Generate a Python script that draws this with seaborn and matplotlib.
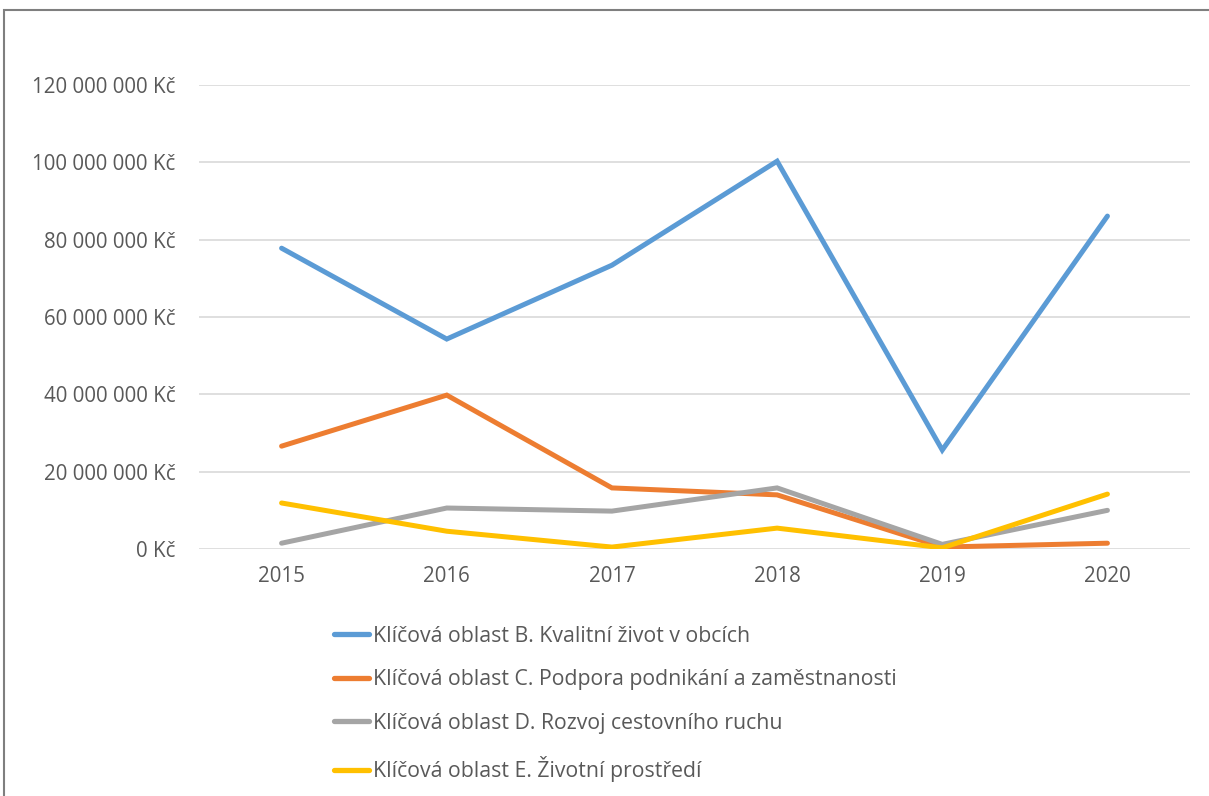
import pandas as pd
import matplotlib.pyplot as plt
import seaborn as sns
from matplotlib.patches import Rectangle
from matplotlib.ticker import FuncFormatter

years = [2015, 2016, 2017, 2018, 2019, 2020]
series_names = [
    "Klíčová oblast B. Kvalitní život v obcích",
    "Klíčová oblast C. Podpora podnikání a zaměstnanosti",
    "Klíčová oblast D. Rozvoj cestovního ruchu",
    "Klíčová oblast E. Životní prostředí",
]
oblast_b = [77.8e6, 54.3e6, 73.4e6, 100.3e6, 25.6e6, 86.1e6]
oblast_c = [26.6e6, 39.8e6, 15.8e6, 14.0e6, 0.5e6, 1.5e6]
oblast_d = [1.5e6, 10.6e6, 9.8e6, 15.8e6, 1.2e6, 10.0e6]
oblast_e = [11.9e6, 4.6e6, 0.5e6, 5.4e6, 0.3e6, 14.2e6]
colors = ["#5B9BD5", "#ED7D31", "#A5A5A5", "#FFC000"]

rows = []
for name, vals in zip(series_names, [oblast_b, oblast_c, oblast_d, oblast_e]):
    for yr, v in zip(years, vals):
        rows.append({"Rok": yr, "Částka": v, "Oblast": name})
df = pd.DataFrame(rows)

sns.set_style("white")
plt.rcParams['font.family'] = ['Open Sans', 'DejaVu Sans']
text_col = "#595959"

fig = plt.figure(figsize=(12.09, 7.96), dpi=100)
ax = fig.add_axes([0.1646, 0.3103, 0.8197, 0.5829])

sns.lineplot(data=df, x="Rok", y="Částka", hue="Oblast", palette=colors,
             linewidth=3.6, ax=ax, legend=False)
for ln in ax.lines:
    ln.set_solid_capstyle('round')
    ln.set_solid_joinstyle('miter')

ax.set_xlim(2014.5, 2020.5)
ax.set_ylim(0, 120e6)
ax.set_yticks(range(0, 120000001, 20000000))
ax.set_xticks(years)

def kc(v, pos):
    return f"{int(v):,} Kč".replace(",", " ")
ax.yaxis.set_major_formatter(FuncFormatter(kc))
ax.tick_params(axis='both', length=0, labelsize=14.8, colors=text_col)
ax.tick_params(axis='y', pad=17)
ax.tick_params(axis='x', pad=12)
ax.grid(axis='y', color="#D9D9D9", linewidth=1.2)
ax.set_axisbelow(True)
for s in ax.spines.values():
    s.set_visible(False)
ax.set_xlabel("")
ax.set_ylabel("")

# legend below plot
handles = [plt.Line2D([], [], color=c, linewidth=3.8, solid_capstyle='round') for c in colors]
fig.legend(handles, series_names, loc='upper left', bbox_to_anchor=(0.2606, 0.238),
           frameon=False, fontsize=15.3, labelcolor=text_col, handlelength=1.62,
           handletextpad=0.2, labelspacing=1.06)

# outer chart frame
fig.patches.append(Rectangle((0.0035, -0.05), 1.05, 1.0375, transform=fig.transFigure,
                             fill=False, edgecolor="#7F7F7F", linewidth=1.5))

fig.savefig("out.png", dpi=100)
